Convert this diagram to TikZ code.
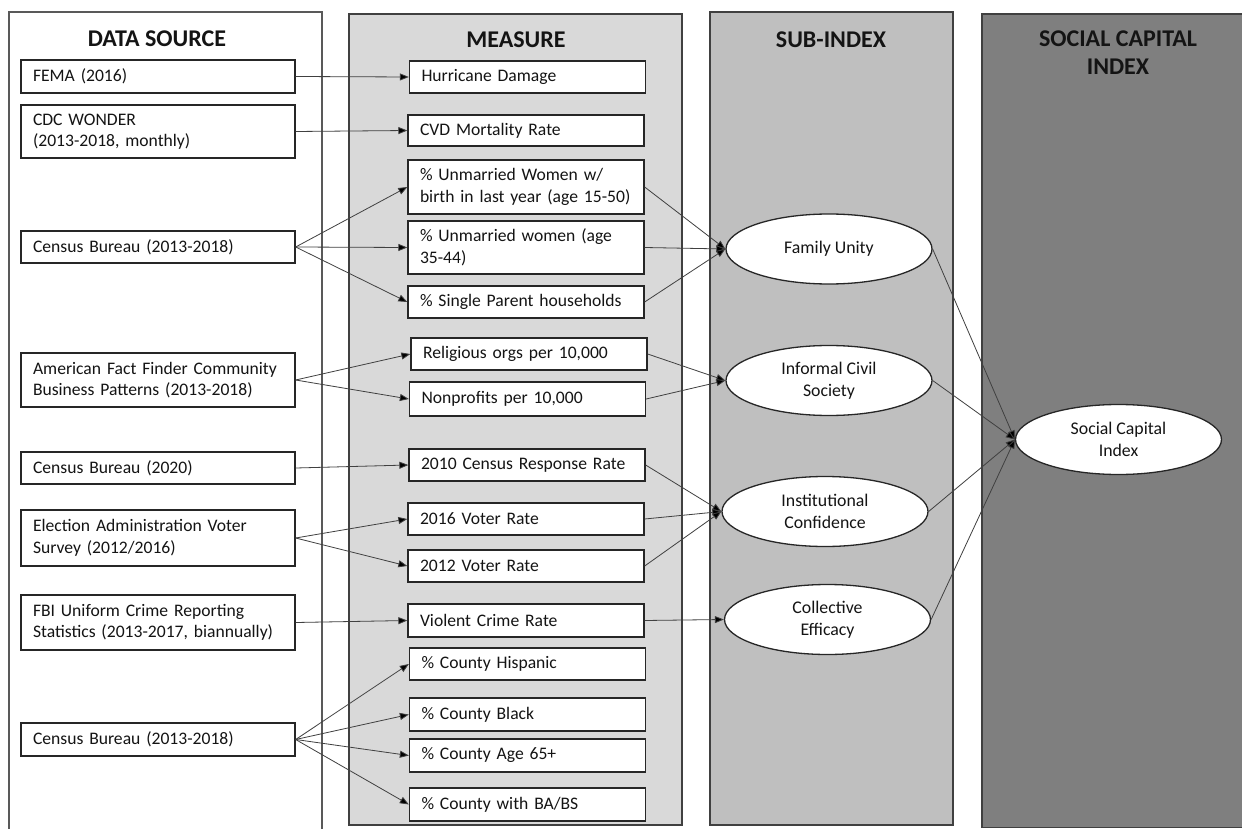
\documentclass[tikz,border=0pt]{standalone}
\usepackage{fontspec}
\setmainfont{Carlito}
\usetikzlibrary{shapes.geometric,arrows.meta}
\definecolor{pmeas}{HTML}{D9D9D9}
\definecolor{psub}{HTML}{BFBFBF}
\definecolor{psci}{HTML}{7F7F7F}
\definecolor{edgec}{HTML}{404040}
\definecolor{txt}{HTML}{141414}
\begin{document}
\begin{tikzpicture}[x=1pt,y=-1pt,
  panel/.style={draw=edgec, line width=1.4pt},
  src/.style={draw=black!85, fill=white, line width=1.3pt, text width=250pt, inner xsep=12pt, inner ysep=0pt, align=left, font=\fontsize{17.6}{21.5}\selectfont, text=txt, execute at begin node={\exhyphenpenalty=10000\hyphenpenalty=10000}},
  meas/.style={src, text width=212pt},
  oval/.style={ellipse, draw=black!85, fill=white, line width=1.3pt, minimum width=206pt, minimum height=70pt, inner sep=0pt, align=center, font=\fontsize{17.8}{22}\selectfont, text=txt},
  hdr/.style={font=\bfseries\fontsize{24}{28}\selectfont, align=center, text=txt, inner sep=0pt},
  conn/.style={draw=edgec, line width=0.8pt, -{Triangle[length=9pt,width=7pt,fill=black]}},
]
\useasboundingbox (0,0) rectangle (1242,829);
\fill[white] (0,0) rectangle (1242,829);
% panels
\draw[panel, draw=black!65, fill=white] (9,12) rectangle (322,845);
\draw[panel, fill=pmeas] (349,14) rectangle (682,825);
\draw[panel, fill=psub] (710,12) rectangle (953,825);
\draw[panel, fill=psci] (982,14) rectangle (1260,827.5);
% headers
\node[hdr] (hsrc) at (157,39) {DATA SOURCE};
\node[hdr] (hmeas) at (516,40) {MEASURE};
\node[hdr] (hsub) at (831,40) {SUB-INDEX};
\node[hdr] (hsci) at (1118,53) {SOCIAL CAPITAL\\INDEX};
% data sources
\node[src, minimum height=33pt] (s1) at (158,76.5) {FEMA (2016)};
\node[src, minimum height=53pt] (s2) at (158,131.5) {CDC WONDER\\(2013-2018, monthly)};
\node[src, minimum height=32pt] (s3) at (158,247) {Census Bureau (2013-2018)};
\node[src, minimum height=54pt] (s4) at (158,380) {American Fact Finder Community\\Business Patterns (2013-2018)};
\node[src, minimum height=32pt] (s5) at (158,468) {Census Bureau (2020)};
\node[src, minimum height=56pt] (s6) at (158,538) {Election Administration Voter\\Survey (2012/2016)};
\node[src, minimum height=55pt] (s7) at (158,622.5) {FBI Uniform Crime Reporting\\Statistics (2013-2017, biannually)};
\node[src, minimum height=33pt] (s8) at (158,739.5) {Census Bureau (2013-2018)};
% measures
\node[meas, minimum height=32pt] (m1) at (527.5,77) {Hurricane Damage};
\node[meas, minimum height=31pt] (m2) at (526,130.5) {CVD Mortality Rate};
\node[meas, minimum height=54pt] (m3) at (526,187) {\% Unmarried Women w/\\birth in last year (age 15-50)};
\node[meas, minimum height=53pt] (m4) at (526,247.5) {\% Unmarried women (age\\35-44)};
\node[meas, minimum height=32pt] (m5) at (526,302) {\% Single Parent households};
\node[meas, minimum height=32pt] (m6) at (529,354) {Religious orgs per 10,000};
\node[meas, minimum height=34pt] (m7) at (527.5,399) {Nonprofits per 10,000};
\node[meas, minimum height=32pt] (m8) at (527,465) {2010 Census Response Rate};
\node[meas, minimum height=32pt] (m9) at (526,519) {2016 Voter Rate};
\node[meas, minimum height=32pt] (m10) at (526,566) {2012 Voter Rate};
\node[meas, minimum height=33pt] (m11) at (526,620.5) {Violent Crime Rate};
\node[meas, minimum height=32pt] (m12) at (527.5,664) {\% County Hispanic};
\node[meas, minimum height=33pt] (m13) at (527.5,714.5) {\% County Black};
\node[meas, minimum height=33pt] (m14) at (527.5,755.5) {\% County Age 65+};
\node[meas, minimum height=33pt] (m15) at (527.5,804.5) {\% County with BA/BS};
% sub-indices
\node[oval] (e1) at (829,249) {Family Unity};
\node[oval] (e2) at (829,380.5) {Informal Civil\\Society};
\node[oval] (e3) at (825,511.5) {Institutional\\Confidence};
\node[oval] (e4) at (827.5,619.5) {Collective\\Efficacy};
\node[oval] (e5) at (1118.5,439.5) {Social Capital\\Index};
% connectors
\draw[conn] (s1.east) -- (m1.west);
\draw[conn] (s2.east) -- (m2.west);
\draw[conn] (s3.east) -- (m3.west);
\draw[conn] (s3.east) -- (m4.west);
\draw[conn] (s3.east) -- (m5.west);
\draw[conn] (s4.east) -- (m6.west);
\draw[conn] (s4.east) -- (m7.west);
\draw[conn] (s5.east) -- (m8.west);
\draw[conn] (s6.east) -- (m9.west);
\draw[conn] (s6.east) -- (m10.west);
\draw[conn] (s7.east) -- (m11.west);
\draw[conn] (s8.east) -- (m12.west);
\draw[conn] (s8.east) -- (m13.west);
\draw[conn] (s8.east) -- (m14.west);
\draw[conn] (s8.east) -- (m15.west);
\draw[conn] (m3.east) -- (e1.west);
\draw[conn] (m4.east) -- (e1.west);
\draw[conn] (m5.east) -- (e1.west);
\draw[conn] (m6.east) -- (e2.west);
\draw[conn] (m7.east) -- (e2.west);
\draw[conn] (m8.east) -- (e3.west);
\draw[conn] (m9.east) -- (e3.west);
\draw[conn] (m10.east) -- (e3.west);
\draw[conn] (m11.east) -- (e4.west);
\draw[conn] (e1.east) -- (e5.west);
\draw[conn] (e2.east) -- (e5.west);
\draw[conn] (e3.east) -- (e5.west);
\draw[conn] (e4.east) -- (e5.west);
\end{tikzpicture}
\end{document}
